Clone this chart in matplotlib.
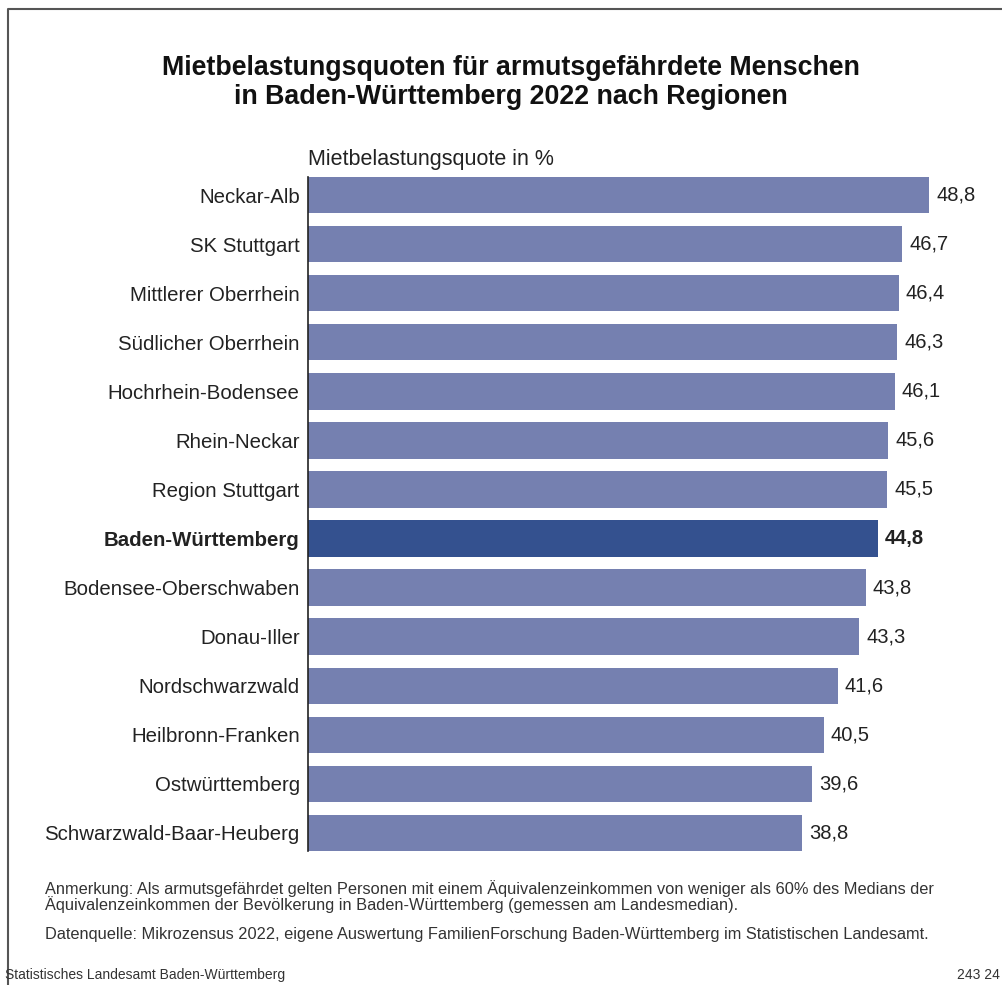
import matplotlib.pyplot as plt
from matplotlib.lines import Line2D

plt.rcParams['font.family'] = ['Liberation Sans', 'DejaVu Sans']

regions = ['Neckar-Alb', 'SK Stuttgart', 'Mittlerer Oberrhein', 'Südlicher Oberrhein',
           'Hochrhein-Bodensee', 'Rhein-Neckar', 'Region Stuttgart', 'Baden-Württemberg',
           'Bodensee-Oberschwaben', 'Donau-Iller', 'Nordschwarzwald', 'Heilbronn-Franken',
           'Ostwürttemberg', 'Schwarzwald-Baar-Heuberg']
values = [48.8, 46.7, 46.4, 46.3, 46.1, 45.6, 45.5, 44.8, 43.8, 43.3, 41.6, 40.5, 39.6, 38.8]
highlight = 'Baden-Württemberg'

W, H = 1003, 985
fig = plt.figure(figsize=(W / 100, H / 100), dpi=100)

# axes in pixel coordinates
left, right, top, bottom = 308, 1003, 177, 851
ax = fig.add_axes([left / W, 1 - bottom / H, (right - left) / W, (bottom - top) / H])

colors = ['#34518f' if r == highlight else '#7580b0' for r in regions]
pos = list(range(len(regions)))
ax.barh(pos, values, height=0.74, color=colors)
ax.set_ylim(len(regions) - 1 + 0.37, -0.37)
ax.set_xlim(0, (right - left) / 12.73)

ax.set_yticks(pos)
ax.set_yticklabels(regions, fontsize=14.7, color='#222222')
for lbl in ax.get_yticklabels():
    if lbl.get_text() == highlight:
        lbl.set_fontweight('bold')
ax.tick_params(axis='y', length=0, pad=6)
ax.set_xticks([])
for s in ['top', 'right', 'bottom']:
    ax.spines[s].set_visible(False)
ax.spines['left'].set_color('#222222')
ax.spines['left'].set_linewidth(1.2)

for p, v, r in zip(pos, values, regions):
    ax.annotate(f'{v:.1f}'.replace('.', ','), (v, p), xytext=(5, 0), textcoords='offset points',
                va='center', ha='left', fontsize=14.5, color='#222222',
                fontweight='bold' if r == highlight else 'normal')

# frame
fig.add_artist(Line2D([8 / W, 8 / W, 1], [0, 1 - 9 / H, 1 - 9 / H], color='#555555', lw=1.5))

fig.text(511 / W, 1 - 68 / H, 'Mietbelastungsquoten für armutsgefährdete Menschen',
         ha='center', va='center', fontsize=19.3, fontweight='bold', color='#111111')
fig.text(511 / W, 1 - 97 / H, 'in Baden-Württemberg 2022 nach Regionen',
         ha='center', va='center', fontsize=19.3, fontweight='bold', color='#111111')
fig.text(left / W, 1 - 160 / H, 'Mietbelastungsquote in %', ha='left', va='center',
         fontsize=15.5, color='#222222')

fig.text(45 / W, 1 - 889 / H,
         'Anmerkung: Als armutsgefährdet gelten Personen mit einem Äquivalenzeinkommen von weniger als 60% des Medians der',
         ha='left', va='center', fontsize=11.8, color='#333333')
fig.text(45 / W, 1 - 905 / H,
         'Äquivalenzeinkommen der Bevölkerung in Baden-Württemberg (gemessen am Landesmedian).',
         ha='left', va='center', fontsize=11.8, color='#333333')
fig.text(45 / W, 1 - 935 / H,
         'Datenquelle: Mikrozensus 2022, eigene Auswertung FamilienForschung Baden-Württemberg im Statistischen Landesamt.',
         ha='left', va='center', fontsize=11.8, color='#333333')
fig.text(5 / W, 1 - 975 / H, 'Statistisches Landesamt Baden-Württemberg', ha='left', va='center',
         fontsize=10, color='#333333')
fig.text(1000 / W, 1 - 975 / H, '243 24', ha='right', va='center', fontsize=10, color='#333333')

fig.savefig('out.png', dpi=100)
